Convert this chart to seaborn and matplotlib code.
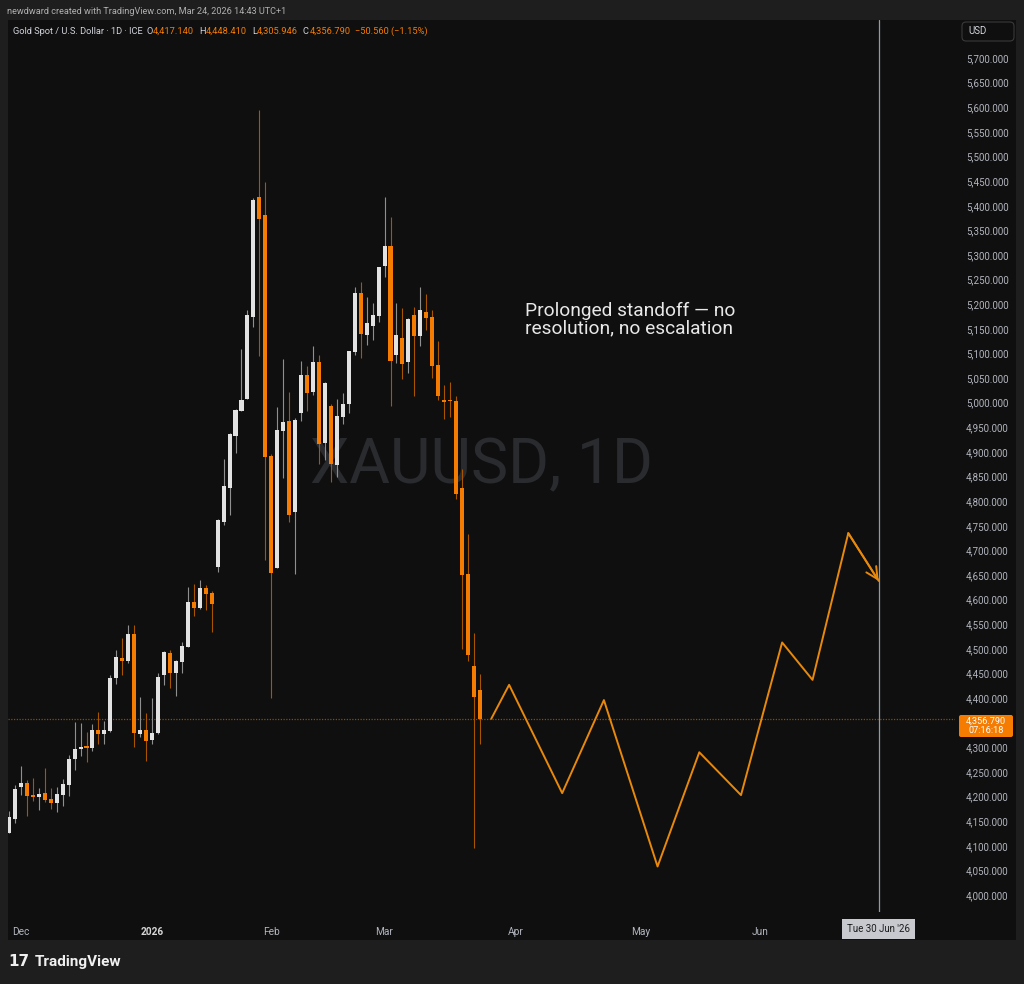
import numpy as np
import pandas as pd
import matplotlib
matplotlib.use("Agg")
import matplotlib.pyplot as plt
import seaborn as sns
from matplotlib.patches import Rectangle, FancyBboxPatch

# ---------------- data ----------------
opens = [4127, 4154, 4219, 4228, 4203, 4199, 4207, 4196, 4187, 4204,
         4224, 4277, 4296, 4303, 4298, 4336, 4328, 4334, 4440, 4481,
         4476, 4530, 4328, 4335, 4314, 4329, 4446, 4491, 4452, 4474,
         4504, 4595, 4582, 4624, 4613, 4666, 4758, 4827, 4932, 4984,
         5008, 5175, 5418, 5382, 4892, 4665, 4942, 4962, 4777, 4979,
         5056, 5022, 5083, 4919, 4993, 4874, 4971, 4997, 5103, 5223,
         5138, 5156, 5177, 5277, 5319, 5097, 5132, 5083, 5178, 5135,
         5184, 5174, 5077, 5005, 5005, 5003, 4826, 4652, 4466, 4417.14]
highs = [4170, 4223, 4262, 4234, 4238, 4218, 4258, 4217, 4220, 4236,
         4284, 4351, 4349, 4332, 4347, 4372, 4354, 4447, 4498, 4523,
         4548, 4548, 4402, 4370, 4400, 4452, 4496, 4498, 4477, 4513,
         4626, 4631, 4640, 4629, 4617, 4764, 4886, 4938, 4987, 5109,
         5189, 5415, 5595, 5448, 4895, 4991, 5088, 5022, 4968, 5084,
         5074, 5116, 5097, 5042, 4997, 5008, 5019, 5105, 5235, 5246,
         5214, 5202, 5275, 5418, 5377, 5202, 5193, 5172, 5195, 5235,
         5220, 5188, 5125, 5036, 5041, 5014, 4865, 4734, 4533, 4448.41]
lows = [4126, 4147, 4203, 4160, 4192, 4173, 4190, 4175, 4168, 4180,
        4202, 4255, 4282, 4270, 4293, 4306, 4307, 4332, 4428, 4446,
        4472, 4300, 4320, 4273, 4307, 4328, 4427, 4421, 4405, 4452,
        4504, 4567, 4580, 4579, 4535, 4657, 4752, 4771, 4897, 4984,
        5008, 5154, 5094, 4680, 4400, 4665, 4848, 4757, 4653, 4962,
        4984, 5015, 4876, 4883, 4839, 4850, 4957, 4979, 5097, 5091,
        5117, 5128, 5164, 5256, 4993, 5081, 5049, 5060, 5013, 5115,
        5148, 5051, 5005, 4966, 4971, 4804, 4500, 4475, 4095, 4305.946]
closes = [4159, 4216, 4228, 4202, 4199, 4205, 4193, 4186, 4205, 4225,
          4276, 4297, 4301, 4299, 4336, 4328, 4336, 4441, 4483, 4476,
          4530, 4329, 4335, 4313, 4329, 4443, 4494, 4452, 4476, 4506,
          4595, 4582, 4624, 4612, 4591, 4761, 4831, 4936, 4985, 5006,
          5178, 5412, 5374, 4890, 4655, 4944, 4961, 4771, 4964, 5056,
          5020, 5082, 4917, 5039, 4875, 4973, 4997, 5105, 5223, 5139,
          5162, 5178, 5275, 5318, 5084, 5138, 5079, 5169, 5135, 5188,
          5172, 5074, 5013, 5002, 5003, 4815, 4651, 4488, 4403, 4356.79]

month_labels = ["Dec", "2026", "Feb", "Mar", "Apr", "May", "Jun"]
month_positions = [2, 24, 44, 63, 85, 106, 126]

proj_x = [80.9, 83.9, 92.8, 99.8, 108.8, 115.8, 122.8, 129.7, 134.8, 140.8, 145.9]
proj_y = [4358, 4427, 4207, 4396, 4058, 4290, 4203, 4513, 4437, 4735, 4638]

# price axis ticks (4,350 is hidden behind the last-price label, as in TradingView)
price_ticks = [p for p in range(4000, 5701, 50) if p != 4350]
last_price = 4356.79
countdown = "07:16:18"
crosshair_x = 145.9
crosshair_label = "Tue 30 Jun '26"

annotation = "Prolonged standoff \u2014 no\nresolution, no escalation"
watermark = "XAUUSD, 1D"
credit = "newdward created with TradingView.com, Mar 24, 2026 14:43 UTC+1"
symbol_desc = "Gold Spot / U.S. Dollar \u00b7 1D \u00b7 ICE"
ohlc_keys = ["O", "H", "L", "C"]
ohlc_vals = ["4,417.140", "4,448.410", "4,305.946", "4,356.790"]
change_txt = "\u221250.560 (\u22121.15%)"

# ---------------- style ----------------
W, H = 1024, 984
sns.set_theme(style="dark")
plt.rcParams["font.family"] = ["Roboto", "DejaVu Sans"]

OUTER = "#1e1e1e"
PANEL = "#0f0f0f"
ORANGE = "#f57c00"
WHITE_C = "#e2e2e2"
WICK_UP = "#8f8f8f"
WICK_DN = "#a85500"
AXTXT = "#b2b5be"
HDR = "#d1d4dc"

fig = plt.figure(figsize=(W / 100, H / 100), dpi=100, facecolor=OUTER)
renderer = fig.canvas.get_renderer()


def fx(px):
    return px / W


def fy(py):
    return 1 - py / H


fig.add_artist(Rectangle((fx(8), fy(940)), fx(1016) - fx(8), fy(20) - fy(940),
                         transform=fig.transFigure, facecolor=PANEL, edgecolor="none", zorder=0))

ax = fig.add_axes([fx(8), fy(912), fx(955) - fx(8), fy(20) - fy(912)])
ax.set_facecolor("none")
for s in ax.spines.values():
    s.set_visible(False)
ax.grid(False)

df = pd.DataFrame({"o": opens, "h": highs, "l": lows, "c": closes})
df["i"] = np.arange(len(df))
df["up"] = df["c"] >= df["o"]
df["bottom"] = np.minimum(df["o"], df["c"])
df["height"] = np.maximum((df["c"] - df["o"]).abs(), 2.0)

up = df[df["up"]]
dn = df[~df["up"]]
ax.vlines(up["i"], up["l"], up["h"], color=WICK_UP, lw=0.8, zorder=2)
ax.vlines(dn["i"], dn["l"], dn["h"], color=WICK_DN, lw=0.8, zorder=2)
ax.bar(up["i"], up["height"], bottom=up["bottom"], width=0.68, color=WHITE_C,
       edgecolor="none", zorder=3)
ax.bar(dn["i"], dn["height"], bottom=dn["bottom"], width=0.68, color=ORANGE,
       edgecolor="none", zorder=3)

# last price dotted line
ax.axhline(last_price, color="#8a4a0a", lw=0.9, ls=(0, (1, 1.2)), zorder=1)

# projection path
LINE_OR = "#e8890c"
sns.lineplot(x=proj_x, y=proj_y, sort=False, ax=ax, color=LINE_OR, lw=1.4, zorder=4)
ax.annotate("", xy=(proj_x[-1], proj_y[-1]), xytext=(proj_x[-2], proj_y[-2]),
            arrowprops=dict(arrowstyle="->,head_length=0.7,head_width=0.35",
                            color=LINE_OR, lw=1.4, shrinkA=0, shrinkB=0), zorder=4)

# crosshair
ax.axvline(crosshair_x, color="#9598a1", lw=0.9, zorder=5)

ax.set_xlim(-0.17, 158.7)
ax.set_ylim(3965.6, 5777.2)

ax.yaxis.tick_right()
ax.set_yticks(price_ticks)
ax.set_yticklabels([f"{v:,.3f}" for v in price_ticks])
ax.tick_params(axis="y", length=0, pad=8, labelsize=7.0, labelcolor=AXTXT)

ax.set_xticks(month_positions)
ax.set_xticklabels(month_labels)
ax.tick_params(axis="x", length=0, pad=11, labelsize=7.3, labelcolor=AXTXT)
for lab in ax.get_xticklabels():
    if lab.get_text() == "2026":
        lab.set_fontweight("bold")
        lab.set_color("#d6d6d6")

# watermark
ax.text(0.5, 0.5, watermark, transform=ax.transAxes, fontsize=45,
        color="#2a2b2f", ha="center", va="center", zorder=0.5)
# annotation
fig.text(fx(525), fy(319.5), annotation, fontsize=13.8, color="#e8e8e8",
         ha="left", va="center", linespacing=1.0)

# crosshair date label
bx0 = ax.transData.transform((crosshair_x, 0))[0]
fig.text(bx0 / W, fy(929), crosshair_label, fontsize=7, color="#1c1c1c",
         ha="center", va="center",
         bbox=dict(boxstyle="square,pad=0.5", facecolor="#c7c9cf", edgecolor="none"))

# last price label on axis (single two-line text)
fig.add_artist(FancyBboxPatch((fx(959), fy(737)), fx(1013) - fx(959), fy(715) - fy(737),
                              boxstyle="round,pad=0,rounding_size=0.002",
                              transform=fig.transFigure, facecolor=ORANGE, edgecolor="none", zorder=6))
fig.text(fx(986), fy(726), f"{last_price:,.3f}\n{countdown}", fontsize=6.6, color="white",
         ha="center", va="center", linespacing=1.05, zorder=7)

# USD box
fig.add_artist(FancyBboxPatch((fx(962), fy(41)), fx(1014) - fx(962), fy(22) - fy(41),
                              boxstyle="round,pad=0,rounding_size=0.004",
                              transform=fig.transFigure, facecolor=PANEL,
                              edgecolor="#3a3a3a", lw=0.8, zorder=6))
fig.text(fx(968), fy(31.5), "USD", fontsize=6.9, color=HDR, ha="left", va="center", zorder=7)

# header (credit line)
fig.text(fx(7), fy(11.5), credit, fontsize=6.6, color="#b0b0b0", ha="left", va="center")


def chain(x_px, text, color, gap, size=6.7):
    t = fig.text(fx(x_px), fy(31), text, fontsize=size, color=color, ha="left", va="center")
    bb = t.get_window_extent(renderer)
    return bb.x1 + gap


x = 12.7
x = chain(x, symbol_desc, HDR, 4)
for k, v in zip(ohlc_keys, ohlc_vals):
    x = chain(x, k, HDR, 0.3)
    x = chain(x, v, ORANGE, 5)
chain(x, change_txt, ORANGE, 0)

# TradingView logo
fig.text(fx(8), fy(962), "17", fontsize=11, fontweight="bold", color="#f0f0f0",
         ha="left", va="center", family=["DejaVu Sans"])
fig.text(fx(35), fy(962), "TradingView", fontsize=11, fontweight="bold", color="#f0f0f0",
         ha="left", va="center")

fig.savefig("out.png", dpi=100, facecolor=OUTER)
